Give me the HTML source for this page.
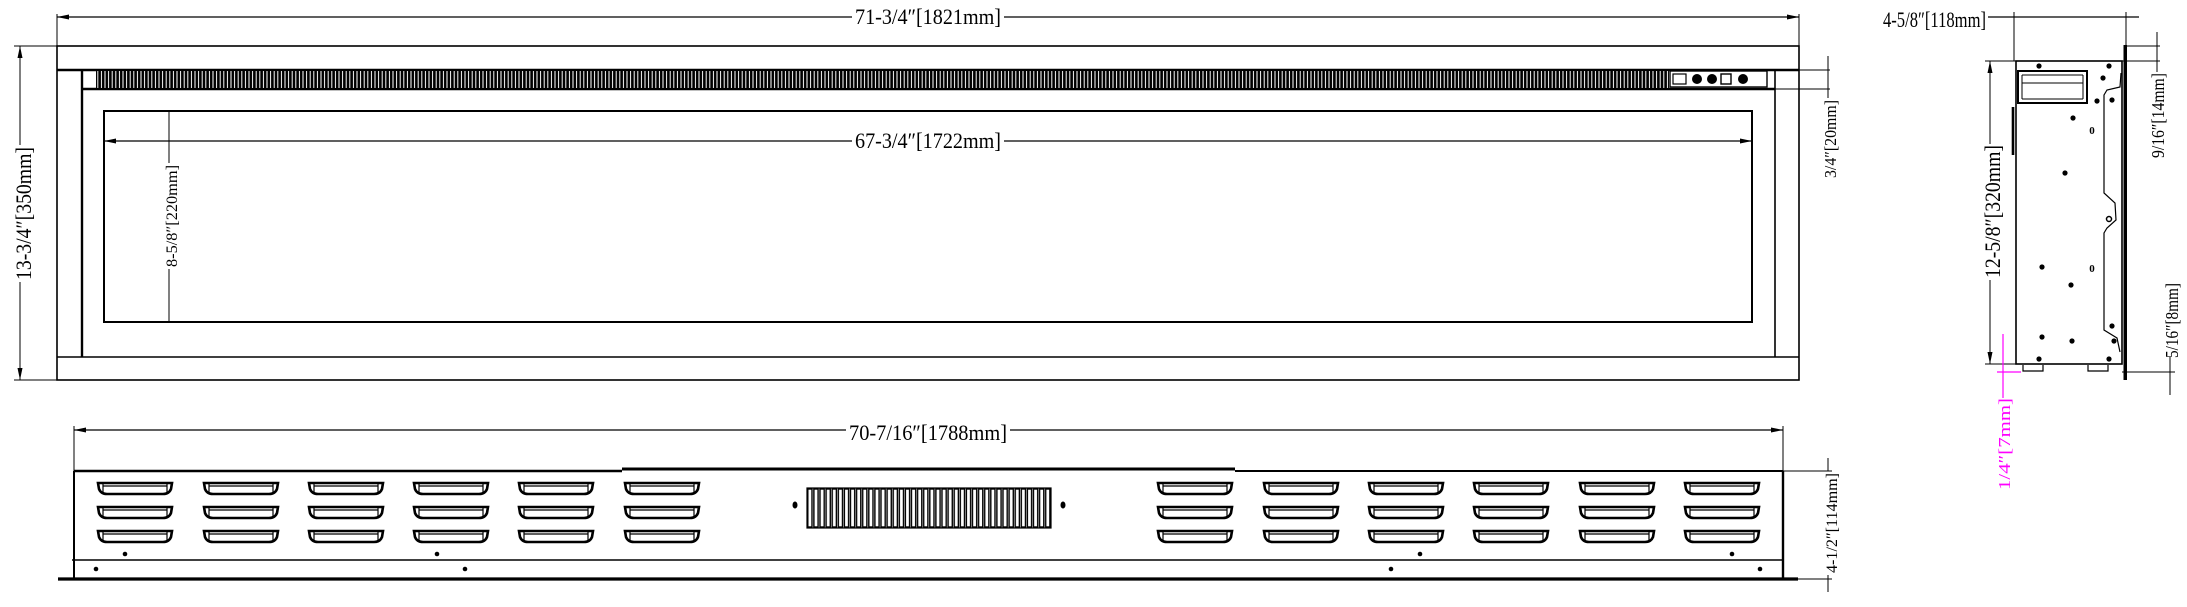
<!DOCTYPE html>
<html><head><meta charset="utf-8"><style>html,body{margin:0;padding:0;background:#fff}svg{display:block}</style></head>
<body>
<svg width="2187" height="607" viewBox="0 0 2187 607" xmlns="http://www.w3.org/2000/svg" font-family="Liberation Serif, serif">
<defs>
<pattern id="vb" x="96" y="0" width="3.6" height="40" patternUnits="userSpaceOnUse">
<rect x="0" y="0" width="3.6" height="40" fill="#000"/><rect x="1.3" y="0" width="1.0" height="40" fill="#fff"/></pattern>
<pattern id="gr" x="807" y="488" width="6.1" height="40" patternUnits="userSpaceOnUse">
<rect x="0.8" y="1" width="4.2" height="38" fill="#fff" stroke="#000" stroke-width="1.4"/></pattern>
<g id="slot"><path d="M0,0 L74,0 L73,6 Q71,11 65,11 L9,11 Q3,11 1,6 Z" fill="#fff" stroke="#000" stroke-width="2.6"/><path d="M5,1 V9 M69,1 V9 M5,3 H69" stroke="#000" stroke-width="1.2" fill="none"/></g>
</defs>
<g stroke="#000" fill="none">
<!-- TOP VIEW -->
<line x1="57" y1="14" x2="57" y2="46" stroke-width="1"/>
<line x1="1799" y1="14" x2="1799" y2="46" stroke-width="1"/>
<line x1="57" y1="17" x2="852" y2="17" stroke-width="1.2"/>
<line x1="1004" y1="17" x2="1799" y2="17" stroke-width="1.2"/>
<rect x="57" y="46" width="1742" height="334" stroke-width="1.6"/>
<line x1="57" y1="70" x2="1799" y2="70" stroke-width="2.4"/>
<line x1="1775" y1="70" x2="1830" y2="70" stroke-width="1"/>
<line x1="82" y1="70" x2="82" y2="357" stroke-width="2.4"/>
<line x1="1775" y1="70" x2="1775" y2="357" stroke-width="1.6"/>
<line x1="82" y1="89" x2="1775" y2="89" stroke-width="2.4"/>
<line x1="1775" y1="89" x2="1830" y2="89" stroke-width="1"/>
<line x1="57" y1="357" x2="1799" y2="357" stroke-width="1.6"/>
<rect x="96" y="71" width="1573" height="17" fill="url(#vb)" stroke="none"/>
<rect x="1670" y="71" width="97" height="16" fill="#fff" stroke-width="1.4"/>
<rect x="1673" y="74" width="13" height="10" stroke-width="1.2"/>
<rect x="1721" y="74" width="10" height="10" stroke-width="1.4"/>
<rect x="104" y="111" width="1648" height="211" stroke-width="2"/>
<line x1="104" y1="141" x2="852" y2="141" stroke-width="1.2"/>
<line x1="1004" y1="141" x2="1752" y2="141" stroke-width="1.2"/>
<line x1="169" y1="111" x2="169" y2="163" stroke-width="1"/>
<line x1="169" y1="269" x2="169" y2="322" stroke-width="1"/>
<line x1="14" y1="46" x2="57" y2="46" stroke-width="1"/>
<line x1="14" y1="380" x2="57" y2="380" stroke-width="1"/>
<line x1="20" y1="46" x2="20" y2="145" stroke-width="1"/>
<line x1="20" y1="282" x2="20" y2="380" stroke-width="1"/>
<line x1="1828" y1="56" x2="1828" y2="98" stroke-width="1"/>
<!-- SIDE VIEW -->
<line x1="1988" y1="17" x2="2139" y2="17" stroke-width="1.2"/>
<line x1="2014" y1="12" x2="2014" y2="61" stroke-width="1"/>
<line x1="2126" y1="12" x2="2126" y2="46" stroke-width="1"/>
<rect x="2016" y="61" width="106" height="303" stroke-width="1.6"/>
<rect x="2123.5" y="45" width="3.5" height="335" fill="#000" stroke="none"/>
<line x1="2013" y1="107" x2="2013" y2="155" stroke-width="2.6"/>
<rect x="2018" y="71" width="69" height="32" stroke-width="2"/>
<line x1="2022" y1="75" x2="2083" y2="75" stroke-width="1"/><line x1="2022" y1="83" x2="2083" y2="83" stroke-width="1"/><line x1="2022" y1="99" x2="2083" y2="99" stroke-width="1"/><line x1="2022" y1="75" x2="2022" y2="99" stroke-width="1"/><line x1="2083" y1="75" x2="2083" y2="99" stroke-width="1"/>
<path d="M2121,73 L2120,87 L2107,90 L2104,95 L2104,193 L2115,203 L2116,220 L2107,228 L2104,233 L2104,330 L2117,338 L2120,352" stroke-width="1.2"/>
<circle cx="2109" cy="219" r="2.5" stroke-width="1.5"/>
<path d="M2023,365 v6 h20 v-6 M2088,365 v6 h20 v-6" stroke-width="1.2"/>
<line x1="2126" y1="46" x2="2160" y2="46" stroke-width="1"/>
<line x1="2122" y1="61" x2="2160" y2="61" stroke-width="1"/>
<line x1="2157" y1="32" x2="2157" y2="72" stroke-width="1"/>
<line x1="2122" y1="372" x2="2175" y2="372" stroke-width="1"/>
<line x1="2170" y1="357" x2="2170" y2="395" stroke-width="1"/>
<line x1="1985" y1="61" x2="2016" y2="61" stroke-width="1"/>
<line x1="1985" y1="364" x2="2016" y2="364" stroke-width="1"/>
<line x1="1990" y1="61" x2="1990" y2="144" stroke-width="1"/>
<line x1="1990" y1="280" x2="1990" y2="364" stroke-width="1"/>
<g stroke="#f0f" stroke-width="1.2"><line x1="2003" y1="334" x2="2003" y2="398"/><line x1="1997" y1="372" x2="2021" y2="372"/></g>
<!-- BOTTOM VIEW -->
<line x1="74" y1="426" x2="74" y2="471" stroke-width="1"/>
<line x1="1783" y1="426" x2="1783" y2="471" stroke-width="1"/>
<line x1="74" y1="430" x2="846" y2="430" stroke-width="1.2"/>
<line x1="1010" y1="430" x2="1783" y2="430" stroke-width="1.2"/>
<line x1="74" y1="471" x2="74" y2="578" stroke-width="2"/>
<line x1="1783" y1="471" x2="1783" y2="578" stroke-width="2.4"/>
<line x1="74" y1="471" x2="622" y2="471" stroke-width="2.4"/>
<line x1="622" y1="469" x2="1235" y2="469" stroke-width="3"/>
<line x1="1235" y1="471" x2="1783" y2="471" stroke-width="2"/>
<line x1="1783" y1="471" x2="1832" y2="471" stroke-width="1"/>
<line x1="72" y1="560" x2="1783" y2="560" stroke-width="1.6"/>
<line x1="58" y1="579" x2="1798" y2="579" stroke-width="3.2"/>
<line x1="1783" y1="579" x2="1832" y2="579" stroke-width="1"/>
<line x1="1828" y1="458" x2="1828" y2="471" stroke-width="1"/>
<line x1="1828" y1="575" x2="1828" y2="592" stroke-width="1"/>
<rect x="807" y="488" width="244" height="40" fill="url(#gr)" stroke="none"/>
<rect x="807" y="488" width="244" height="40" stroke-width="1.2"/>
</g>
<g fill="#000">
<polygon points="57,17 69,14.5 69,19.5"/><polygon points="1799,17 1787,14.5 1787,19.5"/>
<polygon points="104,141 116,138.5 116,143.5"/><polygon points="1752,141 1740,138.5 1740,143.5"/>
<polygon points="20,46 17.5,58 22.5,58"/><polygon points="20,380 17.5,368 22.5,368"/>
<polygon points="1990,61 1987.5,73 1992.5,73"/><polygon points="1990,364 1987.5,352 1992.5,352"/>
<polygon points="74,430 86,427.5 86,432.5"/><polygon points="1783,430 1771,427.5 1771,432.5"/>
<circle cx="1697" cy="79" r="5"/><circle cx="1712" cy="79" r="5"/><circle cx="1743" cy="79" r="5"/>
<circle cx="2039" cy="66" r="2.6"/><circle cx="2109" cy="66" r="2.6"/><circle cx="2103" cy="78" r="2.6"/><circle cx="2097" cy="101" r="2.6"/><circle cx="2112" cy="100" r="2.6"/><circle cx="2073" cy="118" r="2.6"/><circle cx="2065" cy="173" r="2.6"/><circle cx="2042" cy="267" r="2.6"/><circle cx="2071" cy="285" r="2.6"/><circle cx="2112" cy="326" r="2.6"/><circle cx="2042" cy="337" r="2.6"/><circle cx="2072" cy="341" r="2.6"/><circle cx="2114" cy="341" r="2.6"/><circle cx="2039" cy="359" r="2.6"/><circle cx="2109" cy="359" r="2.6"/>
<circle cx="125" cy="554" r="2.3"/><circle cx="437" cy="554" r="2.3"/><circle cx="1420" cy="554" r="2.3"/><circle cx="1732" cy="554" r="2.3"/>
<circle cx="96" cy="569" r="2.3"/><circle cx="465" cy="569" r="2.3"/><circle cx="1391" cy="569" r="2.3"/><circle cx="1760" cy="569" r="2.3"/>
<ellipse cx="795" cy="505" rx="2.5" ry="3.5"/><ellipse cx="1063" cy="505" rx="2.5" ry="3.5"/>
</g>
<g font-size="11" font-weight="bold" text-anchor="middle"><text x="2092" y="134">0</text><text x="2092" y="272">0</text></g>
<g>
<use href="#slot" x="98" y="483"/><use href="#slot" x="98" y="507"/><use href="#slot" x="98" y="531"/>
<use href="#slot" x="204" y="483"/><use href="#slot" x="204" y="507"/><use href="#slot" x="204" y="531"/>
<use href="#slot" x="309" y="483"/><use href="#slot" x="309" y="507"/><use href="#slot" x="309" y="531"/>
<use href="#slot" x="414" y="483"/><use href="#slot" x="414" y="507"/><use href="#slot" x="414" y="531"/>
<use href="#slot" x="519" y="483"/><use href="#slot" x="519" y="507"/><use href="#slot" x="519" y="531"/>
<use href="#slot" x="625" y="483"/><use href="#slot" x="625" y="507"/><use href="#slot" x="625" y="531"/>
<use href="#slot" x="1158" y="483"/><use href="#slot" x="1158" y="507"/><use href="#slot" x="1158" y="531"/>
<use href="#slot" x="1264" y="483"/><use href="#slot" x="1264" y="507"/><use href="#slot" x="1264" y="531"/>
<use href="#slot" x="1369" y="483"/><use href="#slot" x="1369" y="507"/><use href="#slot" x="1369" y="531"/>
<use href="#slot" x="1474" y="483"/><use href="#slot" x="1474" y="507"/><use href="#slot" x="1474" y="531"/>
<use href="#slot" x="1580" y="483"/><use href="#slot" x="1580" y="507"/><use href="#slot" x="1580" y="531"/>
<use href="#slot" x="1685" y="483"/><use href="#slot" x="1685" y="507"/><use href="#slot" x="1685" y="531"/>
</g>
<g font-size="22" fill="#000">
<text x="855" y="24" textLength="146" lengthAdjust="spacingAndGlyphs">71-3/4″[1821mm]</text>
<text x="855" y="148" textLength="146" lengthAdjust="spacingAndGlyphs">67-3/4″[1722mm]</text>
<text x="1883" y="27" textLength="103" lengthAdjust="spacingAndGlyphs">4-5/8″[118mm]</text>
<text x="849" y="440" textLength="158" lengthAdjust="spacingAndGlyphs">70-7/16″[1788mm]</text>
<text transform="translate(31,280) rotate(-90)" textLength="133" lengthAdjust="spacingAndGlyphs">13-3/4″[350mm]</text>
<text transform="translate(177,267) rotate(-90)" font-size="16" textLength="102" lengthAdjust="spacingAndGlyphs">8-5/8″[220mm]</text>
<text transform="translate(1836,178) rotate(-90)" font-size="17" textLength="78" lengthAdjust="spacingAndGlyphs">3/4″[20mm]</text>
<text transform="translate(2000,278) rotate(-90)" textLength="133" lengthAdjust="spacingAndGlyphs">12-5/8″[320mm]</text>
<text transform="translate(2164,158) rotate(-90)" font-size="18" textLength="85" lengthAdjust="spacingAndGlyphs">9/16″[14mm]</text>
<text transform="translate(2178,358) rotate(-90)" font-size="18" textLength="75" lengthAdjust="spacingAndGlyphs">5/16″[8mm]</text>
<text transform="translate(1837,573) rotate(-90)" font-size="16" textLength="100" lengthAdjust="spacingAndGlyphs">4-1/2″[114mm]</text>
<text transform="translate(2010,490) rotate(-90)" font-size="17" fill="#f0f" textLength="92" lengthAdjust="spacingAndGlyphs">1/4″[7mm]</text>
</g>
</svg>
</body></html>
